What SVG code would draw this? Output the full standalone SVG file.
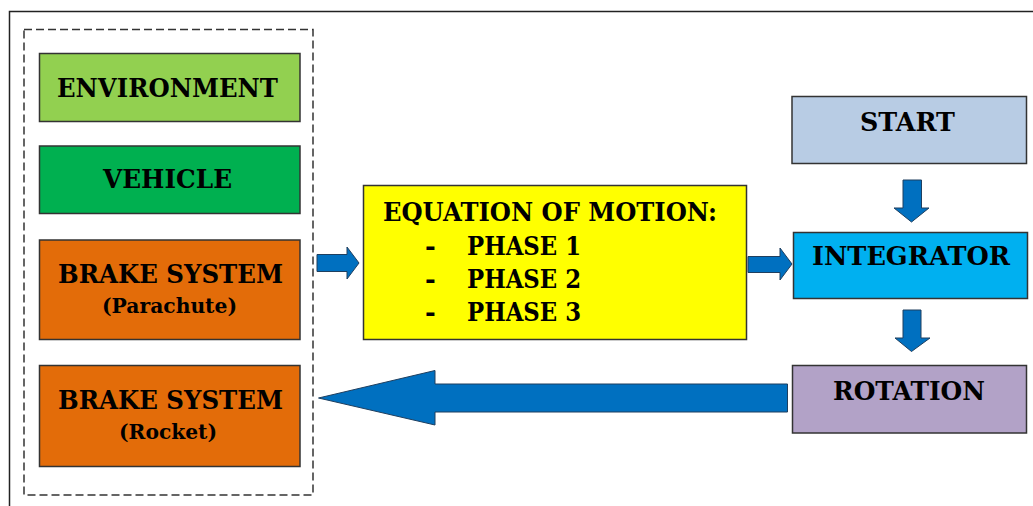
<svg xmlns="http://www.w3.org/2000/svg" width="1033" height="506" viewBox="0 0 1033 506">
<defs>
<style>
.box{stroke:#333;stroke-width:1.5}
text{font-family:'DejaVu Serif','Liberation Serif',serif;font-weight:bold;fill:#000}
.big{font-size:26px}
.sub{font-size:20px}
.arr{fill:#0070C0;stroke:#1F3F5F;stroke-width:1}
</style>
</defs>
<rect width="1033" height="506" fill="#fff"/>
<rect x="9.5" y="11.5" width="1100" height="600" fill="none" stroke="#222" stroke-width="1.5"/>
<rect x="24" y="29.5" width="289" height="465.5" fill="none" stroke="#333" stroke-width="1.5" stroke-dasharray="8 4"/>

<g id="environment">
<rect class="box" x="39.5" y="53.5" width="260.5" height="68" fill="#92D050"/>
<text class="big" x="57" y="97" textLength="221" lengthAdjust="spacingAndGlyphs">ENVIRONMENT</text>
</g>
<g id="vehicle">
<rect class="box" x="39.5" y="146" width="260.5" height="67.5" fill="#00B050"/>
<text class="big" x="103" y="188" textLength="129" lengthAdjust="spacingAndGlyphs">VEHICLE</text>
</g>
<g id="brake-parachute">
<rect class="box" x="39.5" y="240" width="260.5" height="99.5" fill="#E36C09"/>
<text class="big" x="58" y="283" textLength="225" lengthAdjust="spacingAndGlyphs">BRAKE SYSTEM</text>
<text class="sub" x="102" y="313" textLength="135" lengthAdjust="spacingAndGlyphs">(Parachute)</text>
</g>
<g id="brake-rocket">
<rect class="box" x="39.5" y="365.5" width="260.5" height="101" fill="#E36C09"/>
<text class="big" x="58" y="409" textLength="225" lengthAdjust="spacingAndGlyphs">BRAKE SYSTEM</text>
<text class="sub" x="119" y="439" textLength="98" lengthAdjust="spacingAndGlyphs">(Rocket)</text>
</g>
<g id="equation">
<rect class="box" x="363.5" y="185.5" width="383" height="154" fill="#FFFF00"/>
<text class="big" x="383" y="221" textLength="334" lengthAdjust="spacingAndGlyphs">EQUATION OF MOTION:</text>
<text class="big" x="425" y="255">-</text>
<text class="big" x="425" y="288">-</text>
<text class="big" x="425" y="321">-</text>
<text class="big" x="467" y="255" textLength="114" lengthAdjust="spacingAndGlyphs">PHASE 1</text>
<text class="big" x="467" y="288" textLength="114" lengthAdjust="spacingAndGlyphs">PHASE 2</text>
<text class="big" x="467" y="321" textLength="114" lengthAdjust="spacingAndGlyphs">PHASE 3</text>
</g>
<g id="start">
<rect class="box" x="792" y="96.5" width="234.5" height="67" fill="#B8CCE4"/>
<text class="big" x="860" y="131" textLength="95" lengthAdjust="spacingAndGlyphs">START</text>
</g>
<g id="integrator">
<rect class="box" x="793.5" y="232.5" width="234" height="66" fill="#00B0F0"/>
<text class="big" x="812" y="265" textLength="198" lengthAdjust="spacingAndGlyphs">INTEGRATOR</text>
</g>
<g id="rotation">
<rect class="box" x="792.5" y="365.5" width="234" height="67.5" fill="#B2A2C7"/>
<text class="big" x="833" y="400" textLength="152" lengthAdjust="spacingAndGlyphs">ROTATION</text>
</g>

<g id="connectors">
<polygon class="arr" points="317,254.5 347,254.5 347,247 359,263 347,279 347,271.5 317,271.5"/>
<polygon class="arr" points="748,256.5 780,256.5 780,248 792,264 780,280 780,272.5 748,272.5"/>
<polygon class="arr" points="903,180 921.5,180 921.5,208 929,208 911.5,222 894,208 903,208"/>
<polygon class="arr" points="903,310 921,310 921,338 930,338 911.5,351.5 895,338 903,338"/>
<polygon class="arr" points="787.5,384 787.5,412 435,412 435,425 318.5,398 435,370.5 435,384"/>
</g>
</svg>
